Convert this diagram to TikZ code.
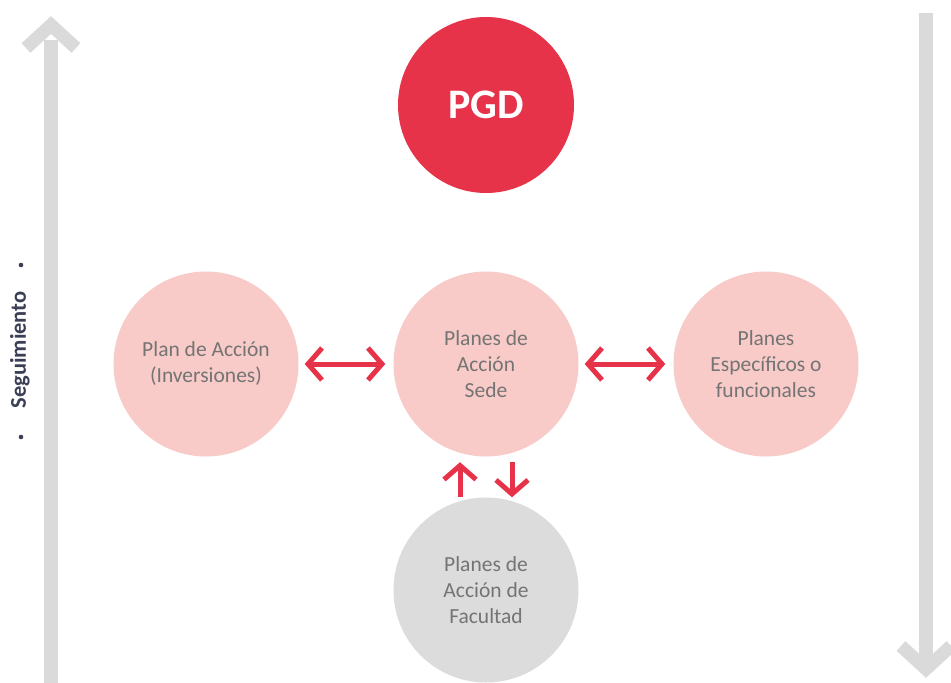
\documentclass[tikz,border=0pt]{standalone}
\usepackage{fontspec}
\setmainfont{Carlito}
\usetikzlibrary{arrows.meta,backgrounds}
\definecolor{pgdred}{HTML}{E6334A}
\definecolor{pinkc}{HTML}{F8CBC8}
\definecolor{grayc}{HTML}{DCDCDC}
\definecolor{linegray}{HTML}{DDDDDD}
\definecolor{biggray}{HTML}{DADADA}
\definecolor{txtgray}{HTML}{747474}
\definecolor{navy}{HTML}{3A3F55}
\begin{document}
\begin{tikzpicture}[x=1pt,y=-1pt,
  circ/.style={circle,minimum size=185pt,inner sep=0pt,align=center,text=txtgray,
    font=\fontsize{21.5}{26}\selectfont},
  pinkcirc/.style={circ,fill=pinkc},
  graycirc/.style={circ,fill=grayc},
  conn/.style={draw=linegray,line width=2pt},
  bigarrow/.style={draw=biggray,line width=14pt},
  chev/.style={draw=biggray,line width=13pt,line join=miter},
  redarr/.style={draw=pgdred,line width=5pt,
    {Straight Barb[length=14pt,width=32pt]}-{Straight Barb[length=14pt,width=32pt]}},
  redone/.style={draw=pgdred,line width=5pt,-{Straight Barb[length=14pt,width=32pt]}}
]
\clip (0,0) rectangle (951,683);
\useasboundingbox (0,0) rectangle (951,683);
\fill[white] (0,0) rectangle (951,683);

% side arrows
\coordinate (lt) at (51,40);
\coordinate (lb) at (51,690);
\draw[bigarrow] (lb) -- (lt);
\draw[chev] (26,48) -- (51,25) -- (76,48);
\coordinate (rt) at (926,13);
\coordinate (rb) at (926,660);
\draw[bigarrow] (rt) -- (rb);
\draw[chev] (901,646) -- (926,669) -- (951,646);

\node[rotate=90,text=navy,font=\bfseries\fontsize{22.5}{22.5}\selectfont] (seg) at (20,350) {Seguimiento};
\fill[navy] (21,265) circle (2.3pt);
\fill[navy] (21,437) circle (2.3pt);

% circles
\node[circle,minimum size=176pt,inner sep=0pt,fill=pgdred,text=white,
  font=\bfseries\fontsize{42}{42}\selectfont] (P) at (486,105) {PGD};
\node[pinkcirc] (L) at (206,364) {Plan de Acción\\(Inversiones)};
\node[pinkcirc] (C) at (486,364) {Planes de\\Acción\\Sede};
\node[pinkcirc] (R) at (766,364) {Planes\\Específicos o\\funcionales};
\node[graycirc] (F) at (486,590) {Planes de\\Acción de\\Facultad};

\coordinate (bar) at (486,240);
\begin{scope}[on background layer]
\draw[conn] (P.south) -- (C.north);
\draw[conn] (L.north) -- (L.north |- bar) -- (R.north |- bar) -- (R.north);
\draw[conn] (C.south) -- (F.north);
\end{scope}

% red arrows
\draw[redarr] ([xshift=6pt]L.east) -- ([xshift=-8pt]C.west);
\draw[redarr] ([xshift=6pt]C.east) -- ([xshift=-8pt]R.west);
\draw[redone] ([xshift=-26pt]F.north) -- ([xshift=-26pt,yshift=-5.5pt]C.south);
\draw[redone] ([xshift=26pt,yshift=-5.5pt]C.south) -- ([xshift=26pt]F.north);
\end{tikzpicture}
\end{document}
